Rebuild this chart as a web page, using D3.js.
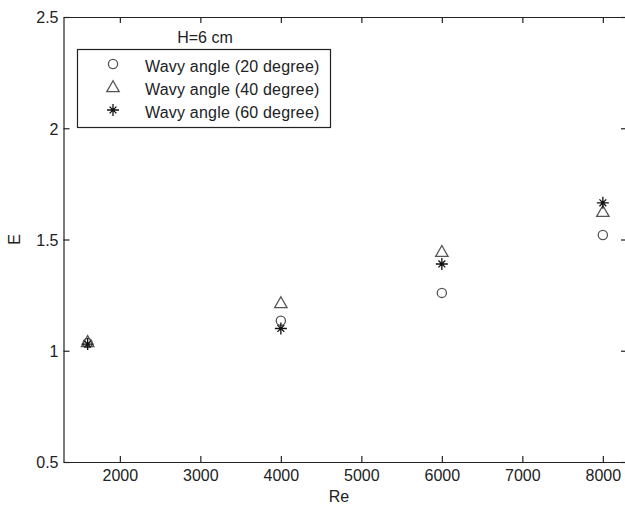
<!DOCTYPE html>
<html>
<head>
<meta charset="utf-8">
<script src="https://cdn.jsdelivr.net/npm/d3@7"></script>
<style>
  html, body { margin: 0; padding: 0; background: #fff; }
  svg text { font-family: "Liberation Sans", Arial, sans-serif; fill: #222; }
</style>
</head>
<body>
<svg id="chart" width="625" height="508"></svg>
<script>
// Reynolds numbers tested
const reValues = [1600, 4000, 6000, 8000];
// Enhancement factor E for each wavy angle
const angle20 = [1.035, 1.135, 1.26, 1.52];
const angle40 = [1.04, 1.215, 1.445, 1.625];
const angle60 = [1.03, 1.10, 1.39, 1.665];
const seriesNames = ["Wavy angle (20 degree)", "Wavy angle (40 degree)", "Wavy angle (60 degree)"];
const seriesMarkers = ["circle", "triangle", "star"];
const xTicks = [2000, 3000, 4000, 5000, 6000, 7000, 8000];
const yTicks = [0.5, 1, 1.5, 2, 2.5];
const legendTitle = "H=6 cm";

const svg = d3.select("#chart");
const plotLeft = 63.5, plotRight = 627, plotTop = 17, plotBottom = 462;

const x = d3.scaleLinear().domain([1300, 8300]).range([plotLeft, plotRight]);
const y = d3.scaleLinear().domain([0.5, 2.5]).range([plotBottom, plotTop]);

const axisColor = "#222";
const fontSize = 16;

// frame ticks (inward, on all four sides)
const tickLen = 6;

const gx = svg.append("g").attr("transform", `translate(0,${plotBottom})`)
  .call(d3.axisBottom(x).tickValues(xTicks).tickSize(-tickLen).tickPadding(8)
    .tickFormat(d3.format("d")).tickSizeOuter(0));
const gxTop = svg.append("g").attr("transform", `translate(0,${plotTop})`)
  .call(d3.axisTop(x).tickValues(xTicks).tickSize(-tickLen).tickFormat("").tickSizeOuter(0));
const gy = svg.append("g").attr("transform", `translate(${plotLeft},0)`)
  .call(d3.axisLeft(y).tickValues(yTicks).tickSize(-tickLen).tickPadding(5)
    .tickFormat(d => String(d)).tickSizeOuter(0));
const gyRight = svg.append("g").attr("transform", `translate(${plotRight},0)`)
  .call(d3.axisRight(y).tickValues(yTicks).tickSize(-tickLen).tickFormat("").tickSizeOuter(0));

[gx, gxTop, gy, gyRight].forEach(g => {
  g.select(".domain").attr("stroke", axisColor).attr("stroke-width", 1.2);
  g.selectAll(".tick line").attr("stroke", axisColor).attr("stroke-width", 1.2);
  g.selectAll(".tick text").attr("font-size", fontSize).attr("fill", "#222")
    .attr("font-family", "Liberation Sans, Arial, sans-serif");
});
gx.selectAll(".tick text").attr("dy", "0.71em");
gy.selectAll(".tick text").attr("dy", "0.36em");

// axis titles
svg.append("text").attr("x", 339).attr("y", 502)
  .attr("text-anchor", "middle").attr("font-size", fontSize).text("Re");
svg.append("text").attr("transform", `translate(20,${(plotTop + plotBottom) / 2}) rotate(-90)`)
  .attr("text-anchor", "middle").attr("font-size", fontSize).text("E");

// marker drawing
function drawMarker(g, type, cx, cy) {
  if (type === "circle") {
    g.append("circle").attr("cx", cx).attr("cy", cy).attr("r", 4.6)
      .attr("fill", "none").attr("stroke", "#555").attr("stroke-width", 1.3);
  } else if (type === "triangle") {
    const s = 6.2;
    g.append("path")
      .attr("d", `M${cx},${cy - s} L${cx + s},${cy + s * 0.75} L${cx - s},${cy + s * 0.75} Z`)
      .attr("fill", "none").attr("stroke", "#555").attr("stroke-width", 1.3);
  } else {
    const s = 6, d = 3.4;
    g.append("path")
      .attr("d", `M${cx - s},${cy} H${cx + s} M${cx},${cy - s} V${cy + s}` +
                 ` M${cx - d},${cy - d} L${cx + d},${cy + d} M${cx - d},${cy + d} L${cx + d},${cy - d}`)
      .attr("fill", "none").attr("stroke", "#111").attr("stroke-width", 1.3);
  }
}

const allSeries = [angle20, angle40, angle60];
allSeries.forEach((vals, i) => {
  const g = svg.append("g");
  vals.forEach((v, j) => drawMarker(g, seriesMarkers[i], x(reValues[j]), y(v)));
});

// legend
svg.append("text").attr("x", 205).attr("y", 43).attr("text-anchor", "middle")
  .attr("font-size", fontSize).text(legendTitle);
svg.append("rect").attr("x", 77.5).attr("y", 49.5).attr("width", 253).attr("height", 78)
  .attr("fill", "#fff").attr("stroke", "#222").attr("stroke-width", 1.2);
const rowY = [66, 89, 112];
seriesNames.forEach((name, i) => {
  const g = svg.append("g");
  drawMarker(g, seriesMarkers[i], 113, rowY[i] - 2);
  g.append("text").attr("x", 145).attr("y", rowY[i]).attr("dy", "0.36em")
    .attr("font-size", fontSize).attr("letter-spacing", 0.2).text(name);
});
</script>
</body>
</html>
